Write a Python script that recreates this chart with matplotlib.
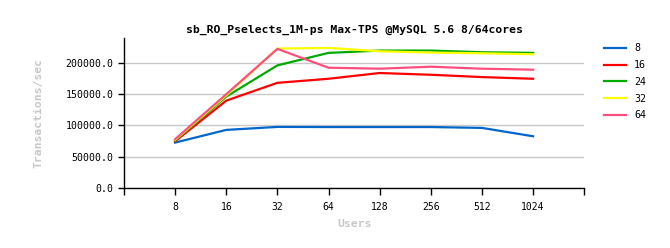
import matplotlib
matplotlib.use("Agg")
import matplotlib.pyplot as plt

# Users (x categories) and Max-TPS per thread setting
users = ["8", "16", "32", "64", "128", "256", "512", "1024"]
series_names = ["8", "16", "24", "32", "64"]
tps_8 = [72600, 92900, 97700, 97500, 97500, 97500, 96100, 82700]
tps_16 = [74700, 139700, 168200, 174700, 183900, 181100, 177400, 174700]
tps_24 = [76000, 146100, 196100, 216100, 219800, 219800, 217100, 216100]
tps_32 = [77000, 148000, 223000, 224000, 218700, 216600, 215500, 213900]
tps_64 = [78000, 150000, 222500, 192400, 190800, 194000, 190800, 189200]

colors = ["#0066cc", "#ff0000", "#00aa00", "#ffff00", "#ff4f7f"]
all_series = [tps_8, tps_16, tps_24, tps_32, tps_64]

plt.rcParams["font.family"] = ["DejaVu Sans Mono"]

fig = plt.figure(figsize=(6.7, 2.48), dpi=100)
ax = fig.add_axes([0.185, 0.242, 0.687, 0.605])

xpos = list(range(1, len(users) + 1))
for name, vals, c in zip(series_names, all_series, colors):
    ax.plot(xpos, vals, color=c, linewidth=1.6, label=name)

ax.set_xlim(0, len(users) + 1)
ax.set_ylim(0, 240000)
ax.set_xticks([0] + xpos + [len(users) + 1])
ax.set_xticklabels([""] + users + [""])
yt = [0, 50000, 100000, 150000, 200000]
ax.set_yticks(yt)
ax.set_yticklabels(["%.1f" % v for v in yt])
ax.tick_params(axis="x", length=5, width=1, labelsize=7, pad=5)
ax.tick_params(axis="y", length=4.5, width=1, labelsize=7.1, pad=3)
ax.yaxis.grid(True, color="#c8c8c8", linewidth=1)
ax.set_axisbelow(True)
for s in ["top", "right"]:
    ax.spines[s].set_visible(False)
ax.spines["left"].set_linewidth(1)
ax.spines["bottom"].set_linewidth(1)

ax.set_title("sb_RO_Pselects_1M-ps Max-TPS @MySQL 5.6 8/64cores",
             fontsize=8.2, fontweight="bold", pad=3.5)
ax.set_xlabel("Users", color="#c8c8c8", fontsize=8.2, fontweight="bold", labelpad=5)
ax.set_ylabel("Transactions/sec", color="#c8c8c8", fontsize=8.2, fontweight="bold",
              labelpad=16)

fig.legend(loc="upper left", bbox_to_anchor=(0.888, 0.862), frameon=False,
           fontsize=7.2, handlelength=2.2, handletextpad=0.8, labelspacing=0.68)

fig.savefig("out.png", dpi=100)
